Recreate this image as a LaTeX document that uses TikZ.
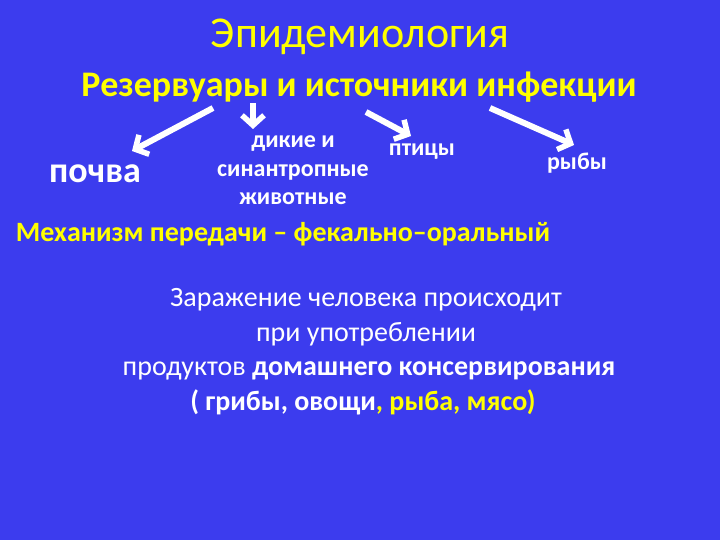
\documentclass[tikz,border=0pt]{standalone}
\usepackage{fontspec}
\setmainfont{Carlito}
\usetikzlibrary{arrows.meta}
\begin{document}
\definecolor{bgblue}{RGB}{60,60,238}
\definecolor{ylw}{RGB}{255,255,0}
\tikzset{
  ttl/.style={text=ylw, inner sep=0pt, anchor=base},
  wtxt/.style={text=white, inner sep=0pt, anchor=base, font=\fontsize{24}{28}\selectfont\bfseries},
  bodytxt/.style={text=white, inner sep=0pt, anchor=base, font=\fontsize{28}{34}\selectfont},
  bigarrow/.style={draw=white, line width=6pt, -{Straight Barb[length=10pt,width=22pt,line width=5.5pt]}},
}
\begin{tikzpicture}[x=1pt,y=-1pt]
\fill[bgblue] (0,0) rectangle (720,540);
\useasboundingbox (0,0) rectangle (720,540);
\node[ttl, font=\fontsize{44}{50}\selectfont] (title) at (360,48) {Эпидемиология};
\node[ttl, font=\fontsize{36}{42}\selectfont\bfseries] (sub) at (359,97) {Резервуары и источники инфекции};
\node[wtxt, font=\fontsize{36}{40}\selectfont\bfseries] (pochva) at (95,183) {почва};
\node[wtxt] (dikie1) at (293,148) {дикие и};
\node[wtxt] (dikie2) at (293,177) {синантропные};
\node[wtxt] (dikie3) at (293,205) {животные};
\node[wtxt] (ptitsy) at (422,156) {птицы};
\node[wtxt] (ryby) at (577,170) {рыбы};
\node[ttl, font=\fontsize{28}{32}\selectfont\bfseries] (mech) at (283,241) {Механизм передачи – фекально–оральный};
\node[bodytxt] (zar1) at (366,306) {Заражение человека происходит};
\node[bodytxt] (zar2) at (366,341) {при употреблении};
\node[bodytxt] (zar3) at (369,375) {продуктов \textbf{домашнего консервирования}};
\node[bodytxt, font=\fontsize{28}{34}\selectfont\bfseries] (zar4) at (363,410) {( грибы, овощи\textcolor{ylw}{, рыба, мясо)}};
\coordinate (a1s) at (213,108);
\coordinate (a1e) at (132,151);
\coordinate (a2s) at (253,103);
\coordinate (a2e) at (253,129);
\coordinate (a3s) at (366,112);
\coordinate (a3e) at (411,136);
\coordinate (a4s) at (490,108);
\coordinate (a4e) at (574,145);
\draw[bigarrow] (a1s) -- (a1e);
\draw[bigarrow] (a2s) -- (a2e);
\draw[bigarrow] (a3s) -- (a3e);
\draw[bigarrow] (a4s) -- (a4e);
\end{tikzpicture}
\end{document}
